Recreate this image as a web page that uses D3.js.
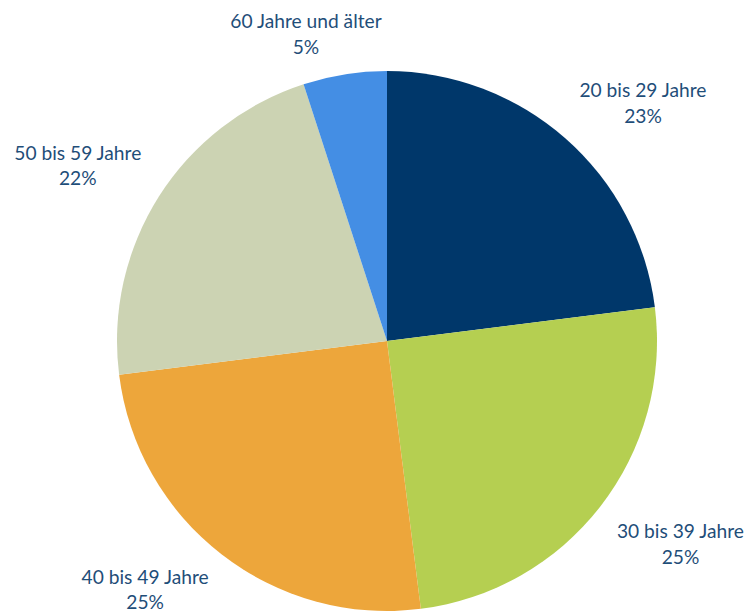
<!DOCTYPE html>
<html>
<head>
<meta charset="utf-8">
<script src="https://cdn.jsdelivr.net/npm/d3@7/dist/d3.min.js"></script>
<style>
  html, body { margin: 0; padding: 0; background: #ffffff; }
  svg { display: block; }
  text { font-family: Lato, "Noto Sans", sans-serif; fill: #1f4e79; }
</style>
</head>
<body>
<svg id="chart" width="751" height="613"></svg>
<script>
// Age groups and their shares in percent
const categories = ["20 bis 29 Jahre", "30 bis 39 Jahre", "40 bis 49 Jahre", "50 bis 59 Jahre", "60 Jahre und älter"];
const shares = [23, 25, 25, 22, 5];
const colors = ["#00376a", "#b5cf51", "#eda63b", "#ccd3b3", "#448ee4"];

const width = 751, height = 613;
const cx = 387, cy = 341, radius = 270;
const labelRadius = 291;
const fontSize = 19.2, lineGap = 25.5;

const data = categories.map((c, i) => ({ category: c, value: shares[i], color: colors[i] }));

const svg = d3.select("#chart");
const g = svg.append("g").attr("transform", `translate(${cx},${cy})`);

const pie = d3.pie().sort(null).value(d => d.value);
const arc = d3.arc().innerRadius(0).outerRadius(radius);
const arcs = pie(data);

g.selectAll("path.slice")
  .data(arcs)
  .join("path")
  .attr("class", "slice")
  .attr("d", arc)
  .attr("fill", d => d.data.color);

// Labels sit outside the slice, with the nearest box corner on a circle just beyond the rim
const labels = g.selectAll("g.label")
  .data(arcs)
  .join("g")
  .attr("class", "label");

labels.each(function (d) {
  const sel = d3.select(this);
  const t = sel.append("text")
    .attr("text-anchor", "middle")
    .style("font-size", fontSize + "px");
  t.append("tspan").attr("x", 0).attr("dy", 0).text(d.data.category);
  t.append("tspan").attr("x", 0).attr("dy", lineGap).text(d.value + "%");

  const w = t.node().getBBox().width;
  const above = fontSize * 0.98, below = 0;
  const h = above + lineGap + below;
  const mid = (d.startAngle + d.endAngle) / 2;
  const sx = Math.sin(mid), sy = -Math.cos(mid);
  const ax = labelRadius * sx, ay = labelRadius * sy;
  const kx = Math.max(-1, Math.min(1, sx * 3));
  const ky = Math.max(-1, Math.min(1, sy * 3));
  const bx = ax + kx * w / 2;
  const by = ay + ky * h / 2;
  let firstBase = by - h / 2 + above;
  // keep the second line, descent included, inside the drawing area
  const maxFirst = (height - 4 - cy) - lineGap;
  firstBase = Math.min(firstBase, maxFirst);
  sel.attr("transform", `translate(${bx},${firstBase})`);
});
</script>
</body>
</html>
